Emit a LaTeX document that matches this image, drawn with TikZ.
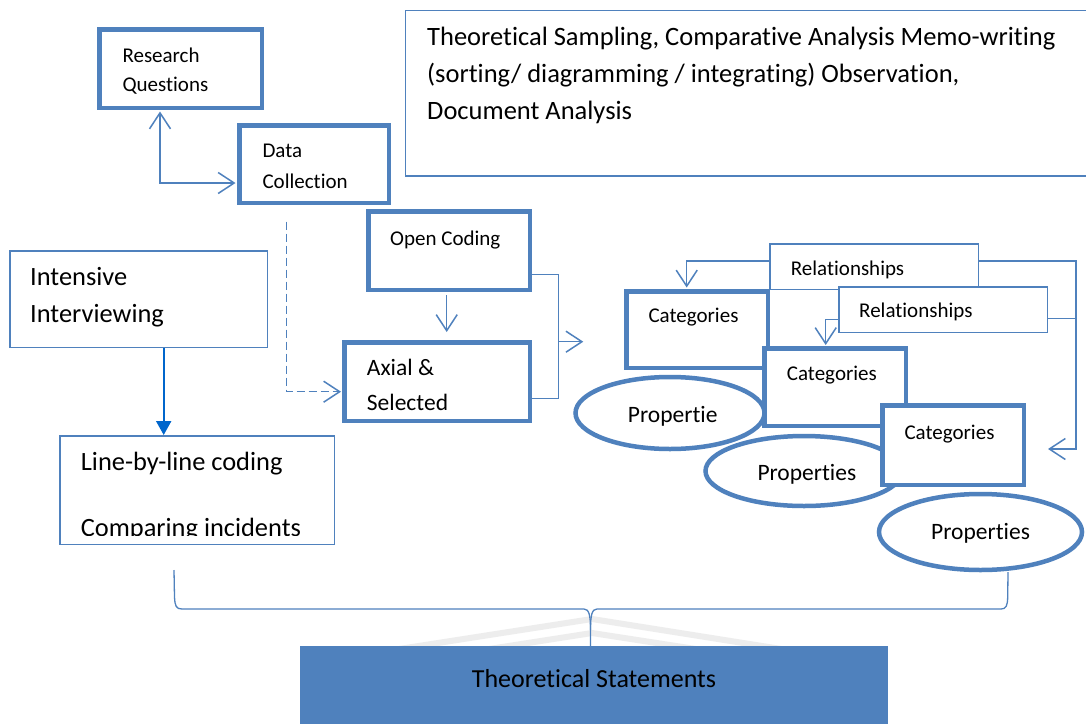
\documentclass[tikz,border=0pt]{standalone}
\usepackage{fontspec}
\setmainfont{Carlito}[RawFeature={-liga;-clig;-calt;-dlig}]
\usetikzlibrary{arrows.meta,shapes.geometric}
\definecolor{wordblue}{HTML}{4F81BD}
\definecolor{deepblue}{HTML}{0066CC}
\begin{document}
\begin{tikzpicture}[x=1pt,y=-1pt,
  thickbox/.style={draw=wordblue, line width=4.5pt, fill=white, rectangle, inner sep=0pt},
  thinbox/.style={draw=wordblue, line width=1.5pt, fill=white, rectangle, inner sep=0pt},
  oval/.style={draw=wordblue, line width=4.5pt, fill=white, ellipse, inner sep=0pt},
  conn/.style={draw=wordblue, line width=1.5pt},
  >={Straight Barb[length=16pt,width=21pt]},
  lbl/.style={anchor=base west, inner sep=0pt, text=black},
  fs21/.style={lbl, font=\fontsize{21}{25}\selectfont},
  fs23/.style={lbl, font=\fontsize{23.5}{28}\selectfont},
  fs26/.style={lbl, font=\fontsize{26.4}{32}\selectfont},
]
\useasboundingbox (0,0) rectangle (1086,723);
\fill[white] (0,0) rectangle (1086,723);

% memo box (runs off the right edge)
\node[thinbox, minimum width=700pt, minimum height=165.5pt, anchor=north west] (memo) at (404.5,9.5) {};
\node[fs26, font=\fontsize{26.5}{32}\selectfont] (m1) at (427,45.5) {Theoretical Sampling, Comparative Analysis Memo-writing};
\node[fs26, font=\fontsize{26.5}{32}\selectfont] (m2) at (427,82.5) {(sorting/ diagramming / integrating) Observation,};
\node[fs26, font=\fontsize{26.5}{32}\selectfont] (m3) at (427,119.5) {Document Analysis};

% research questions and data collection
\node[thickbox, minimum width=162.5pt, minimum height=78.5pt] (rq) at (180.5,68.5) {};
\node[fs21] (rqa) at (122.3,62.7) {Research};
\node[fs21] (rqb) at (122.3,91.7) {Questions};
\node[thickbox, minimum width=149.5pt, minimum height=77.5pt] (dc) at (314,164) {};
\node[fs21] (dca) at (262.3,157.3) {Data};
\node[fs21] (dcb) at (262.3,188.3) {Collection};
\coordinate (j1) at (160,183);
\draw[conn,<->] ([yshift=-1.5pt]rq.south -| j1) -- (j1) -- ([xshift=-1.5pt]dc.west |- j1);

% coding boxes
\node[thickbox, minimum width=161.5pt, minimum height=78.5pt] (oc) at (449,250.5) {};
\node[fs21] (oct) at (390,245) {Open Coding};
\node[thickbox, minimum width=185.5pt, minimum height=78.5pt] (ax) at (437,381.5) {};
\node[fs23] (axa) at (366.7,375) {Axial \&};
\node[fs23] (axb) at (366.7,410) {Selected};
\draw[conn,->] ([yshift=-3pt]oc.south -| 446.7,0) -- ([yshift=8pt]ax.north -| 446.7,0);

\coordinate (d1) at (286.7,391.7);
\draw[conn,dashed,dash pattern=on 8pt off 4pt,->] (d1 |- 0,221.7) -- (d1) -- ([xshift=-1pt]ax.west |- d1);

\coordinate (b1) at (558.3,274.3);
\coordinate (b2) at (558.3,398.3);
\coordinate (b3) at (558.3,341.7);
\coordinate (b4) at (583.3,341.7);
\draw[conn] (oc.east |- b1) -- (b1) -- (b2) -- (ax.east |- b2);
\draw[conn,->] (b3) -- (b4);

% interviewing
\node[thinbox, minimum width=257.5pt, minimum height=96.5pt] (ii) at (138.5,299) {};
\node[fs26] (iia) at (30,285.7) {Intensive};
\node[fs26] (iib) at (30,322.7) {Interviewing};
\node[thinbox, minimum width=274.5pt, minimum height=108.5pt] (lbl) at (197,490) {};
\node[fs26] (lbla) at (80.7,470) {Line-by-line coding};
\begin{scope}
  \clip (60,440) rectangle (334,535);
  \node[fs26] (lblb) at (80.7,536) {Comparing incidents};
\end{scope}
\draw[draw=deepblue, line width=2pt, -{Triangle[length=14pt,width=15pt]}] (ii.south -| 163.7,0) -- (lbl.north -| 163.7,0);

% relationships
\node[thinbox, minimum width=208.5pt, minimum height=45.5pt] (rel1) at (874,266.5) {};
\node[fs21] (rel1t) at (790.7,275) {Relationships};
\node[thinbox, minimum width=208.5pt, minimum height=45.5pt] (rel2) at (943,309.5) {};
\node[fs21] (rel2t) at (859,317.3) {Relationships};

% categories and properties
\node[thickbox, minimum width=141.5pt, minimum height=76.5pt] (cat1) at (697,329.5) {};
\node[fs21] (cat1t) at (648.3,322.7) {Categories};
\node[oval, minimum width=189pt, minimum height=72pt] (e1) at (670,413) {};
\node[fs23] (e1t) at (627.7,422.7) {Propertie};
\node[thickbox, minimum width=141.5pt, minimum height=77.5pt] (cat2) at (835,387) {};
\node[fs21] (cat2t) at (786.7,380.7) {Categories};
\node[oval, minimum width=197pt, minimum height=70pt] (e2) at (804,471) {};
\node[fs23] (e2t) at (757.3,480.7) {Properties};
\node[thickbox, minimum width=141.5pt, minimum height=79.5pt] (cat3) at (953,445) {};
\node[fs21] (cat3t) at (904.3,439.3) {Categories};
\node[oval, minimum width=203pt, minimum height=76pt] (e3) at (980.5,532) {};
\node[fs23] (e3t) at (931,539.3) {Properties};

\coordinate (r1) at (686.7,261);
\draw[conn,->] (rel1.west |- r1) -- (r1) -- ([yshift=1.5pt]cat1.north -| r1);
\coordinate (r2) at (825.7,319.3);
\draw[conn,->] (rel2.west |- r2) -- (r2) -- ([yshift=1pt]cat2.north -| r2);
\coordinate (r3) at (1076,261);
\coordinate (r4) at (1076,449);
\draw[conn,->] (rel1.east |- r3) -- (r3) -- (r4) -- ([xshift=22pt]cat3.east |- r4);
\draw[conn] (rel2.east |- 0,318.3) -- (r3 |- 0,318.3);

% faint chevrons behind the brace tip
\draw[black!7, line width=6pt] (380,652) -- (592,619) -- (800,652);
\draw[black!7, line width=6pt] (470,652) -- (592,633) -- (715,652);

% statements box and brace
\node[fill=wordblue, minimum width=588pt, minimum height=90pt, anchor=north west, inner sep=0pt] (ts) at (300,646) {};
\node[font=\fontsize{26}{32}\selectfont, anchor=base, inner sep=0pt] (tst) at (594,687) {Theoretical Statements};
\coordinate (bl) at (174,570);
\coordinate (br) at (1008,572);
\coordinate (bm) at (590.5,630);
\draw[conn, line width=1.3pt] (bl) -- (174.5,597) .. controls (175,606) and (176,609) .. (182,609)
  -- (584,609) .. controls (589,609) and (590.5,615) .. (bm) -- (ts.north -| bm);
\draw[conn, line width=1.3pt] (bm) .. controls (590.5,615) and (592,609) .. (597,609)
  -- (1001,609) .. controls (1006,609) and (1007.5,606) .. (1007.7,597) -- (br);
\end{tikzpicture}
\end{document}
